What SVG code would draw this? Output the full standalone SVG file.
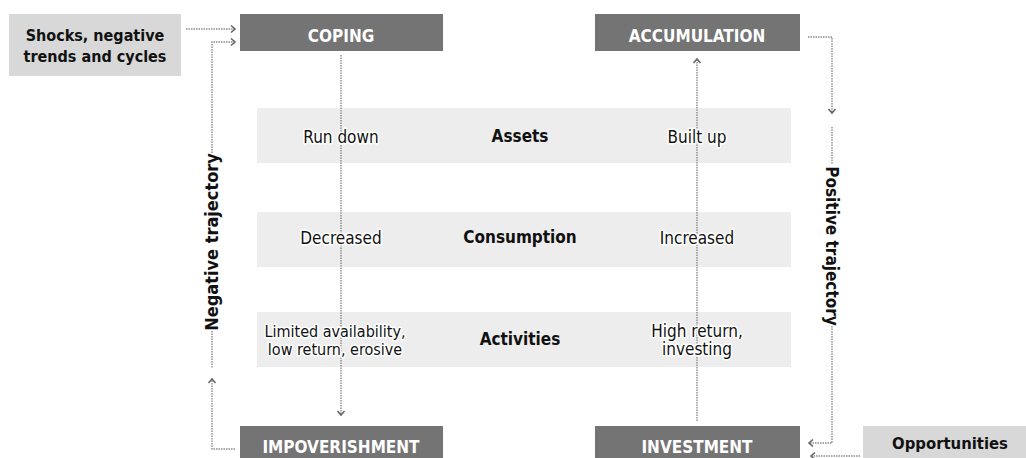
<svg xmlns="http://www.w3.org/2000/svg" width="1026" height="458" viewBox="0 0 1026 458">
<style>
.dark{fill:#747474}
.light{fill:#d8d8d8}
.band{fill:#ededed}
text{font-family:"DejaVu Sans Condensed","Liberation Sans",Arial,sans-serif;font-stretch:condensed}
.hd{font-weight:bold;font-size:17px;fill:#fff;text-anchor:middle}
.side{font-weight:bold;font-size:16px;fill:#111;text-anchor:middle}
.cat{font-weight:bold;font-size:17px;fill:#111;text-anchor:middle}
.val{font-size:17px;fill:#111;text-anchor:middle;stroke:#fff;stroke-width:3px;paint-order:stroke;stroke-linejoin:round}
.sm{font-size:16px}
.traj{font-weight:bold;font-size:17px;fill:#111;text-anchor:middle}
.dot{fill:none;stroke:#8c8c8c;stroke-width:1.4;stroke-dasharray:1.5 1}
.arr{marker-end:url(#ah)}
</style>
<defs>
<marker id="ah" markerUnits="userSpaceOnUse" markerWidth="10" markerHeight="10" refX="5" refY="4" orient="auto" viewBox="0 0 10 8">
<path d="M1,0.5 L5,4 L1,7.5" fill="none" stroke="#666" stroke-width="1.6"/>
</marker>
</defs>

<g id="bands">
<rect class="band" x="257" y="108" width="534" height="55"/>
<rect class="band" x="257" y="212" width="534" height="55"/>
<rect class="band" x="257" y="312" width="534" height="55"/>
</g>

<g id="connectors">
<path class="dot arr" d="M186,29 H235"/>
<path class="dot arr" d="M212,153 V42 H235"/>
<path class="dot" d="M212,331 V368"/>
<path class="dot arr" d="M235,449 H212 V379"/>
<path class="dot arr" d="M808,37 H832 V113"/>
<path class="dot" d="M832,127 V164"/>
<path class="dot arr" d="M832,326 V443 H809"/>
<path class="dot arr" d="M860,456 H811"/>
<path class="dot arr" d="M341,55 V415"/>
<path class="dot arr" d="M697,421 V59"/>
</g>

<g id="shocks">
<rect class="light" x="9" y="14" width="172" height="62"/>
<text class="side" x="95" y="41">Shocks, negative</text>
<text class="side" x="95" y="62">trends and cycles</text>
</g>
<g id="coping">
<rect class="dark" x="240" y="14" width="203" height="37"/>
<text class="hd" x="341" y="42">COPING</text>
</g>
<g id="accumulation">
<rect class="dark" x="595" y="14" width="205" height="37"/>
<text class="hd" x="697" y="42">ACCUMULATION</text>
</g>
<g id="impoverishment">
<rect class="dark" x="240" y="426" width="203" height="37"/>
<text class="hd" x="341" y="453">IMPOVERISHMENT</text>
</g>
<g id="investment">
<rect class="dark" x="595" y="426" width="205" height="37"/>
<text class="hd" x="697" y="453">INVESTMENT</text>
</g>
<g id="opportunities">
<rect class="light" x="863" y="426" width="175" height="37"/>
<text class="side" x="950" y="449" style="font-size:16.5px">Opportunities</text>
</g>

<g id="negative-trajectory">
<text class="traj" transform="translate(218,242) rotate(-90)" style="font-size:18px">Negative trajectory</text>
</g>
<g id="positive-trajectory">
<text class="traj" transform="translate(826,246) rotate(90)">Positive trajectory</text>
</g>

<g id="assets">
<text class="val" x="341" y="143">Run down</text>
<text class="cat" x="520" y="142">Assets</text>
<text class="val" x="697" y="143">Built up</text>
</g>
<g id="consumption">
<text class="val" x="341" y="244">Decreased</text>
<text class="cat" x="520" y="243">Consumption</text>
<text class="val" x="697" y="244">Increased</text>
</g>
<g id="activities">
<text class="val sm" x="335" y="337">Limited availability,</text>
<text class="val sm" x="335" y="355">low return, erosive</text>
<text class="cat" x="520" y="345">Activities</text>
<text class="val" x="697" y="337">High return,</text>
<text class="val" x="697" y="355">investing</text>
</g>
</svg>
